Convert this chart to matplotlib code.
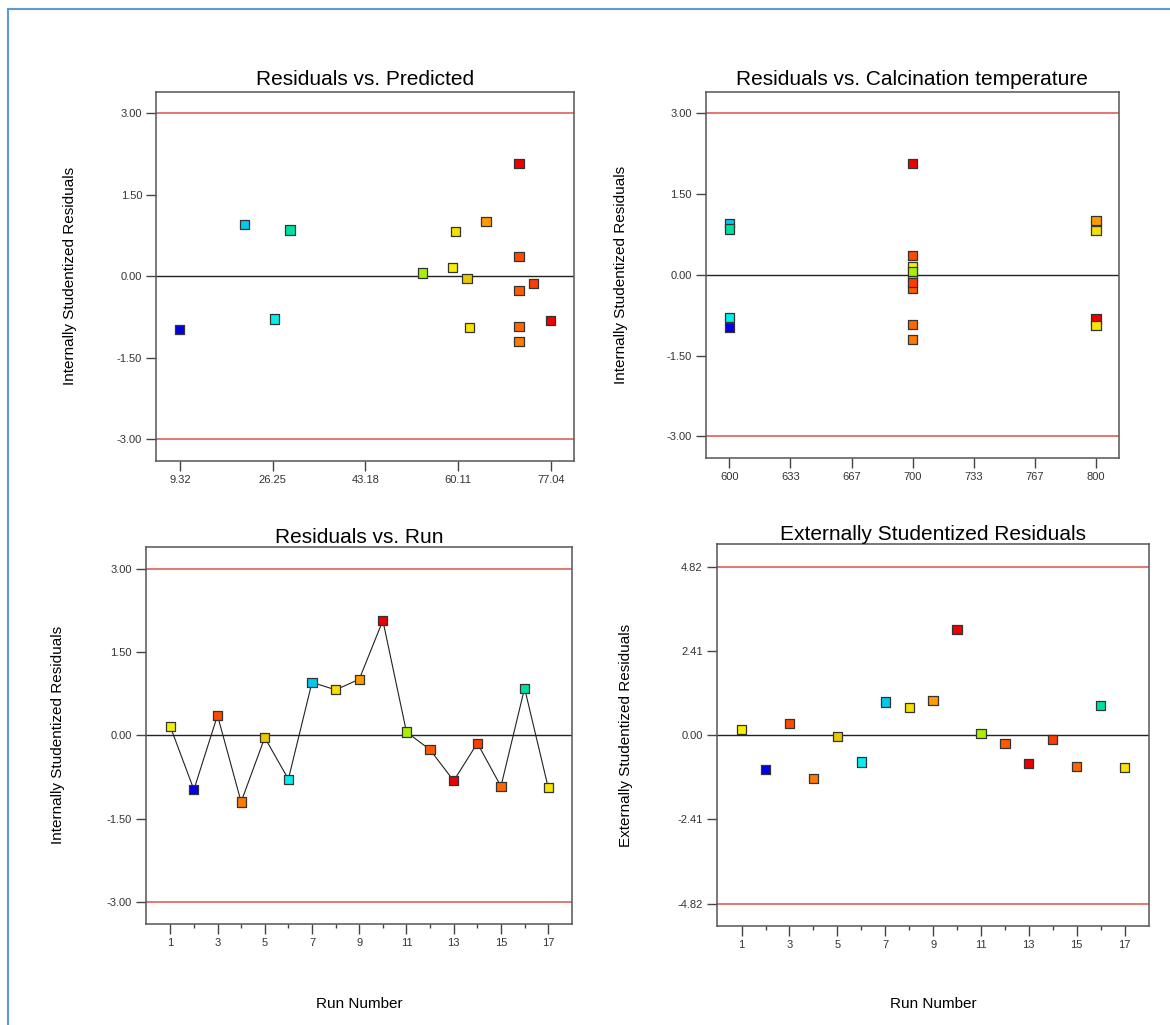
import matplotlib
matplotlib.use("Agg")
import matplotlib.pyplot as plt
import numpy as np
from matplotlib.patches import Rectangle

plt.rcParams['font.family'] = ['Liberation Sans', 'DejaVu Sans']

# run data
run = [1, 2, 3, 4, 5, 6, 7, 8, 9, 10, 11, 12, 13, 14, 15, 16, 17]
predicted = [59.12, 9.27, 71.2, 71.2, 61.73, 26.61, 21.06, 59.6, 65.2, 71.2,
             53.57, 71.2, 77.0, 73.9, 71.2, 29.4, 62.2]
temperature = [700, 600, 700, 700, 700, 600, 600, 800, 800, 700,
               700, 700, 800, 700, 700, 600, 800]
int_resid = [0.16, -0.98, 0.36, -1.20, -0.04, -0.79, 0.955, 0.82, 1.01, 2.07,
             0.06, -0.26, -0.82, -0.14, -0.92, 0.85, -0.94]
ext_resid = [0.16, -0.98, 0.34, -1.25, -0.03, -0.77, 0.95, 0.80, 1.00, 3.01,
             0.05, -0.24, -0.81, -0.13, -0.90, 0.84, -0.93]
point_colors = ['#f5f000', '#0000e6', '#ff4a00', '#ff7a00', '#e8c800', '#00f0f0',
                '#00c8f0', '#f5e000', '#ff9a00', '#ee0000', '#a8f000', '#ff5a00',
                '#ee0000', '#ff3c00', '#ff6800', '#00e0a0', '#f8e400']

int_limit = 3.00
ext_limit = 4.82
int_ticks = [-3.0, -1.5, 0.0, 1.5, 3.0]
int_ticklabels = ["-3.00", "-1.50", "0.00", "1.50", "3.00"]
ext_ticks = [-4.82, -2.41, 0.0, 2.41, 4.82]
ext_ticklabels = ["-4.82", "-2.41", "0.00", "2.41", "4.82"]
pred_ticks = [9.32, 26.25, 43.18, 60.11, 77.04]
pred_ticklabels = ["9.32", "26.25", "43.18", "60.11", "77.04"]
temp_ticks = [600, 633.33, 666.67, 700, 733.33, 766.67, 800]
temp_ticklabels = ["600", "633", "667", "700", "733", "767", "800"]
run_ticks = [1, 3, 5, 7, 9, 11, 13, 15, 17]

W, H = 1170, 1025
fig = plt.figure(figsize=(W / 100, H / 100), dpi=100)
fig.patch.set_facecolor('white')

# blue frame round the whole picture (right/bottom edges fall off the image)
fig.patches.append(Rectangle((8 / W, -0.05), 1.1, 1 - 9 / H + 0.05,
                             transform=fig.transFigure, fill=False,
                             edgecolor='#5b9bd5', linewidth=1.5))


def make_ax(left, top, right, bottom):
    return fig.add_axes([left / W, 1 - bottom / H, (right - left) / W, (bottom - top) / H])


def style(ax, title, title_pad):
    for s in ax.spines.values():
        s.set_color('#555555')
        s.set_linewidth(1.1)
    ax.tick_params(which='major', direction='out', length=7, width=1,
                   color='#444444', labelsize=8, labelcolor='#333333', pad=3)
    ax.tick_params(which='minor', direction='out', length=3, width=1, color='#444444')
    ax.set_title(title, fontsize=15, pad=title_pad)


def squares(ax, x, y):
    ax.scatter(x, y, marker='s', s=44, c=point_colors, edgecolors='#333333',
               linewidths=0.9, zorder=4)


ax1 = make_ax(156, 91.7, 574.3, 460.7)
ax2 = make_ax(705.7, 91.7, 1119, 458)
ax3 = make_ax(145.7, 546.7, 572.3, 924)
ax4 = make_ax(716.7, 544.3, 1149, 926)

# Residuals vs. Predicted
squares(ax1, predicted, int_resid)
ax1.set_xlim(4.94, 81.3)
ax1.set_xticks(pred_ticks)
ax1.set_xticklabels(pred_ticklabels)

# Residuals vs. Calcination temperature
squares(ax2, temperature, int_resid)
ax2.set_xlim(587.1, 812.5)
ax2.set_xticks(temp_ticks)
ax2.set_xticklabels(temp_ticklabels)

# Residuals vs. Run
ax3.plot(run, int_resid, color='#222222', linewidth=0.8, zorder=3)
squares(ax3, run, int_resid)

# Externally Studentized Residuals
squares(ax4, run, ext_resid)

for ax in (ax1, ax2, ax3):
    ax.axhline(int_limit, color='#e05050', linewidth=1.1, zorder=1)
    ax.axhline(-int_limit, color='#e05050', linewidth=1.1, zorder=1)
    ax.axhline(0, color='#222222', linewidth=1.0, zorder=1)
    ax.set_ylim(-3.4, 3.4)
    ax.set_yticks(int_ticks)
    ax.set_yticklabels(int_ticklabels)
    ax.set_ylabel("Internally Studentized Residuals", fontsize=11)
    ax.yaxis.set_label_coords(-0.188, 0.5)

ax4.axhline(ext_limit, color='#e05050', linewidth=1.1, zorder=1)
ax4.axhline(-ext_limit, color='#e05050', linewidth=1.1, zorder=1)
ax4.axhline(0, color='#222222', linewidth=1.0, zorder=1)
ax4.set_ylim(-5.455, 5.455)
ax4.set_yticks(ext_ticks)
ax4.set_yticklabels(ext_ticklabels)
ax4.set_ylabel("Externally Studentized Residuals", fontsize=11)
ax4.yaxis.set_label_coords(-0.194, 0.5)

for ax in (ax3, ax4):
    ax.set_xlim(-0.04, 18.02)
    ax.set_xticks(run_ticks)
    ax.set_xticks([r for r in run if r % 2 == 0], minor=True)
    ax.set_xlabel("Run Number", fontsize=11)
ax3.xaxis.set_label_coords(0.5, -0.194)
ax4.xaxis.set_label_coords(0.5, -0.186)

style(ax1, "Residuals vs. Predicted", 5)
style(ax2, "Residuals vs. Calcination temperature", 5)
style(ax3, "Residuals vs. Run", 3)
style(ax4, "Externally Studentized Residuals", 3)

fig.savefig("out.png", dpi=100)
